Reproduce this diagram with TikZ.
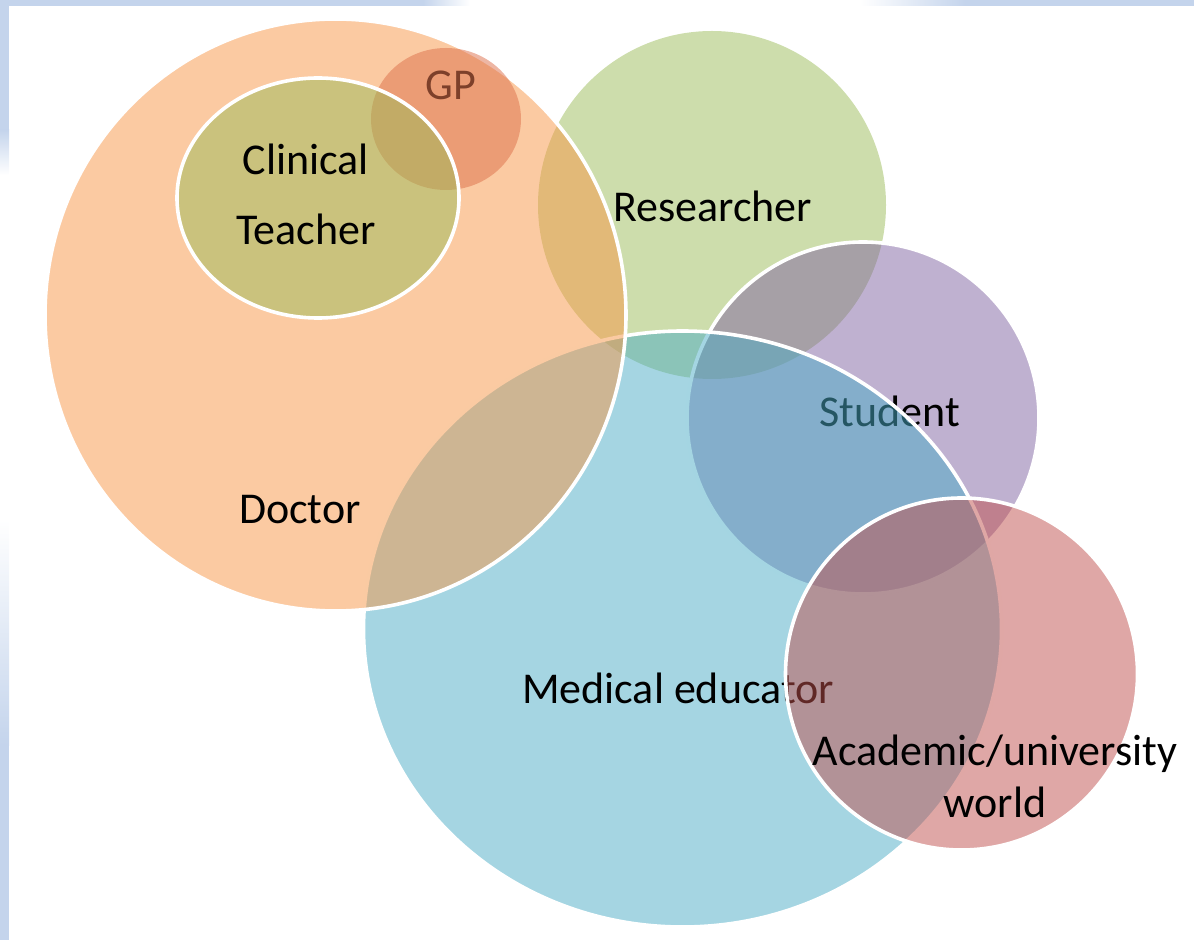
\documentclass[tikz,border=0pt]{standalone}
\usepackage{fontspec}
\setmainfont{Carlito}
\definecolor{docorange}{HTML}{F79646}
\definecolor{gpred}{HTML}{DD6E4A}
\definecolor{clingreen}{HTML}{9BBB59}
\definecolor{resgreen}{HTML}{9BBB59}
\definecolor{stupurple}{HTML}{8064A2}
\definecolor{medblue}{HTML}{4BACC6}
\definecolor{acadred}{HTML}{C0504D}
\definecolor{slideblue}{RGB}{196,212,236}
\begin{document}
\begin{tikzpicture}[x=0.5pt, y=-0.5pt,
  vennset/.style={fill=#1, fill opacity=0.5, draw=white, draw opacity=1, line width=1.8pt},
  vennplain/.style={fill=#1, fill opacity=0.5},
  lbl/.style={font=\fontsize{22}{26}\selectfont, anchor=base, inner sep=0pt}]
\useasboundingbox (0,0) rectangle (1194,940);
% slide edge
\fill[slideblue] (0,0) rectangle (9,940);
\fill[slideblue] (0,0) rectangle (1194,6);
\shade[left color=slideblue, right color=white] (423,0) rectangle (470,6);
\fill[white] (470,0) rectangle (860,6);
\shade[left color=white, right color=slideblue] (860,0) rectangle (965,6);
\shade[top color=slideblue, bottom color=white] (0,130) rectangle (9,175);
\fill[white] (0,175) rectangle (9,520);
\shade[top color=white, bottom color=slideblue] (0,520) rectangle (9,745);
% circles, back to front
\path[vennplain=resgreen] (712,205) circle [radius=87pt];
\path[vennset=stupurple] (863,418) circle [radius=88pt];
\node[lbl] (student) at (890,427) {Student};
\path[vennset=medblue] (682.5,629) ellipse [x radius=159.5pt, y radius=149pt];
\node[lbl] (medical) at (678,704) {Medical educator};
\path[vennset=docorange] (335.5,315) ellipse [x radius=145.25pt, y radius=148pt];
\node[lbl, text=black!85!brown] (gp) at (451,100) {GP};
\path[vennplain=gpred] (446,119) ellipse [x radius=37.5pt, y radius=35.5pt];
\path[vennset=clingreen] (318,198) ellipse [x radius=70.5pt, y radius=60pt];
\path[vennset=acadred] (961.5,674) circle [radius=88pt];
% labels
\node[lbl] (clinical) at (306,175) {Clinical};
\node[lbl] (teacher) at (306,245) {Teacher};
\node[lbl] (researcher) at (712.5,222) {Researcher};
\node[lbl] (doctor) at (300,524) {Doctor};
\node[lbl] (academic) at (995,765) {Academic/university};
\node[lbl] (world) at (995,817) {world};
\end{tikzpicture}
\end{document}
